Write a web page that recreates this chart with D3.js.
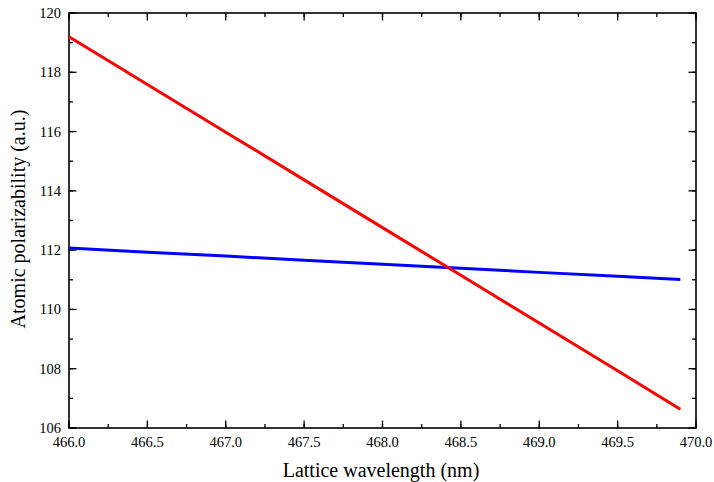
<!DOCTYPE html>
<html><head><meta charset="utf-8">
<script src="https://cdn.jsdelivr.net/npm/d3@7"></script>
<style>body{margin:0;background:#fff}svg{display:block}text{font-family:"Liberation Serif","Times New Roman",serif}</style>
</head><body>
<svg id="c" width="714" height="482"></svg>
<script>
const wavelength = [466.0, 466.5, 467.0, 467.5, 468.0, 468.5, 469.0, 469.5, 469.9];
const redSeries  = [119.2, 117.59, 115.98, 114.37, 112.76, 111.15, 109.54, 107.93, 106.63];
const blueSeries = [112.07, 111.93, 111.80, 111.66, 111.52, 111.39, 111.25, 111.12, 111.01];
const xTicks = [466.0, 466.5, 467.0, 467.5, 468.0, 468.5, 469.0, 469.5, 470.0];
const yTicks = [106, 108, 110, 112, 114, 116, 118, 120];

const svg = d3.select("#c");
const L = 69, R = 696, T = 13, B = 428;
const x = d3.scaleLinear().domain([466, 470]).range([L, R]);
const y = d3.scaleLinear().domain([106, 120]).range([B, T]);

const xMinor = d3.range(466, 470.001, 0.25);
const yMinor = d3.range(106, 120.001, 1);

const g = svg.append("g");
// minor ticks
g.selectAll(".xmb").data(xMinor).join("line").attr("x1", d=>x(d)).attr("x2", d=>x(d)).attr("y1", B).attr("y2", B-4).attr("stroke","#000").attr("stroke-width",1.3);
g.selectAll(".xmt").data(xMinor).join("line").attr("x1", d=>x(d)).attr("x2", d=>x(d)).attr("y1", T).attr("y2", T+4).attr("stroke","#000").attr("stroke-width",1.3);
g.selectAll(".yml").data(yMinor).join("line").attr("y1", d=>y(d)).attr("y2", d=>y(d)).attr("x1", L).attr("x2", L+4).attr("stroke","#000").attr("stroke-width",1.3);
g.selectAll(".ymr").data(yMinor).join("line").attr("y1", d=>y(d)).attr("y2", d=>y(d)).attr("x1", R).attr("x2", R-4).attr("stroke","#000").attr("stroke-width",1.3);
// major ticks
g.selectAll(".xMb").data(xTicks).join("line").attr("x1", d=>x(d)).attr("x2", d=>x(d)).attr("y1", B).attr("y2", B-7.5).attr("stroke","#000").attr("stroke-width",1.3);
g.selectAll(".xMt").data(xTicks).join("line").attr("x1", d=>x(d)).attr("x2", d=>x(d)).attr("y1", T).attr("y2", T+7.5).attr("stroke","#000").attr("stroke-width",1.3);
g.selectAll(".yMl").data(yTicks).join("line").attr("y1", d=>y(d)).attr("y2", d=>y(d)).attr("x1", L).attr("x2", L+7.5).attr("stroke","#000").attr("stroke-width",1.3);
g.selectAll(".yMr").data(yTicks).join("line").attr("y1", d=>y(d)).attr("y2", d=>y(d)).attr("x1", R).attr("x2", R-7.5).attr("stroke","#000").attr("stroke-width",1.3);

// frame
svg.append("rect").attr("x", L).attr("y", T).attr("width", R-L).attr("height", B-T).attr("fill","none").attr("stroke","#000").attr("stroke-width",1.6);

// labels
svg.selectAll(".xl").data(xTicks).join("text").attr("x", d=>x(d)).attr("y", B+18.5).attr("text-anchor","middle").attr("font-size",14.5).text(d=>d.toFixed(1));
svg.selectAll(".yl").data(yTicks).join("text").attr("x", L-8).attr("y", d=>y(d)+5).attr("text-anchor","end").attr("font-size",14.5).text(d=>d);

svg.append("text").attr("x", 381).attr("y", 477).attr("text-anchor","middle").attr("font-size",20).text("Lattice wavelength (nm)");
svg.append("text").attr("transform", `translate(25,219) rotate(-90)`).attr("text-anchor","middle").attr("font-size",20).text("Atomic polarizability (a.u.)");

const line = d3.line().x((d,i)=>x(wavelength[i])).y(d=>y(d));
svg.append("path").datum(blueSeries).attr("d", line).attr("fill","none").attr("stroke","#0000ff").attr("stroke-width",3);
svg.append("path").datum(redSeries).attr("d", line).attr("fill","none").attr("stroke","#ff0000").attr("stroke-width",3);
</script>
</body></html>
